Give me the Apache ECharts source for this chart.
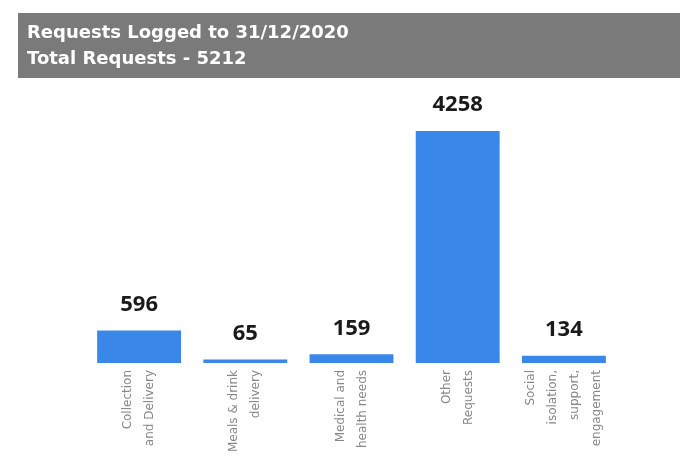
<!DOCTYPE html>
<html>
<head>
<meta charset="utf-8">
<script src="https://cdn.jsdelivr.net/npm/echarts@6/dist/echarts.min.js"></script>
<style>
  html, body { margin: 0; padding: 0; background: #fff; }
  #chart { width: 690px; height: 472px; }
</style>
</head>
<body>
<div id="chart"></div>
<script>
// request categories and counts
const categories = [
  'Collection\nand Delivery',
  'Meals & drink\ndelivery',
  'Medical and\nhealth needs',
  'Other\nRequests',
  'Social\nisolation,\nsupport,\nengagement'
]
const requestCounts = [596, 65, 159, 4258, 134]
const titleLines = ['Requests Logged to 31/12/2020', 'Total Requests - 5212']

const chart = echarts.init(document.getElementById('chart'))
chart.setOption({
  animation: false,
  graphic: [
    {
      type: 'rect',
      shape: { x: 18, y: 13, width: 662, height: 65 },
      style: { fill: '#7a7a7a' },
      z: 0
    },
    {
      type: 'text',
      left: 27,
      top: 20,
      style: {
        text: titleLines.join('\n'),
        fill: '#ffffff',
        font: 'bold 18px "DejaVu Sans", sans-serif',
        lineHeight: 26
      },
      z: 1
    }
  ],
  grid: { left: 86, right: 73, top: 131, bottom: 109 },
  xAxis: {
    type: 'category',
    data: categories,
    axisLine: { show: false },
    axisTick: { show: false },
    axisLabel: {
      rotate: 90,
      interval: 0,
      margin: 7,
      color: '#888',
      fontSize: 12,
      lineHeight: 22,
      fontFamily: '"DejaVu Sans", sans-serif'
    }
  },
  yAxis: {
    type: 'value',
    min: 0,
    max: 4258,
    show: false,
    splitLine: { show: false }
  },
  series: [{
    type: 'bar',
    data: requestCounts,
    barWidth: '79%',
    itemStyle: { color: '#3a87ea' },
    label: {
      show: true,
      position: 'top',
      distance: 15,
      color: '#1a1a1a',
      fontSize: 22,
      fontWeight: 'bold',
      fontFamily: '"Open Sans", sans-serif'
    }
  }]
})
</script>
</body>
</html>
